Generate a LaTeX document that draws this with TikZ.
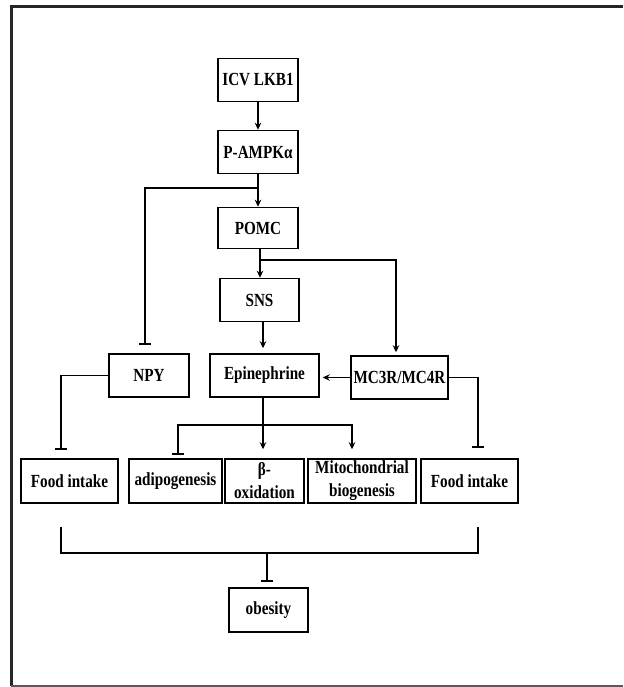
\documentclass[tikz,border=0pt]{standalone}
\usepackage{fontspec}
\setmainfont[FakeStretch=0.82]{Liberation Serif}
\usetikzlibrary{arrows.meta,positioning}
\tikzset{
  box/.style={draw, line width=1.5pt, minimum height=43pt, inner sep=1pt, align=center,
    font=\fontsize{18.5}{23}\selectfont\bfseries},
  act/.style={line width=1.4pt, -{Stealth[length=7pt,width=6.5pt]}},
  inh/.style={line width=1.4pt, -{Bar[width=12pt,line width=1.8pt]}},
  link/.style={line width=1.4pt}
}
\begin{document}
\begin{tikzpicture}[x=1pt,y=-1pt]
\useasboundingbox (0,0) rectangle (623,687);
% frame
\draw[line width=3pt, black!85] (623,7) -- (11,7) -- (11,686);
\draw[line width=2pt, black!65] (11,686) -- (623,686);
% nodes
\node[box, minimum width=80pt] (lkb) at (258,80) {ICV LKB1};
\node[box, minimum width=80pt] (ampk) at (258,152) {P-AMPKα};
\node[box, minimum width=80pt, minimum height=41pt] (pomc) at (258,228) {POMC};
\node[box, minimum width=79pt] (sns) at (259.5,300) {SNS};
\node[box, minimum width=80pt] (npy) at (149,375.5) {NPY};
\node[box, minimum width=109pt] (epi) at (264.5,375.5) {Epinephrine};
\node[box, minimum width=97pt] (mcr) at (399.5,377.5) {MC3R/MC4R};
\node[box, minimum width=97pt, minimum height=44pt] (food1) at (69.5,481) {Food intake};
\node[box, minimum width=93pt, minimum height=44pt] (adipo) at (175.5,481) {adipogenesis};
\node[box, minimum width=79pt, minimum height=44pt] (boxid) at (264.5,481) {β-\\oxidation};
\node[box, minimum width=108pt, minimum height=44pt] (mito) at (362,481) {Mitochondrial\\biogenesis};
\node[box, minimum width=97pt, minimum height=44pt] (food2) at (469.5,481) {Food intake};
\node[box, minimum width=79pt, minimum height=44pt] (obes) at (268.5,610) {obesity};
% junctions
\coordinate (j1) at (258,188);
\coordinate (j2) at (260,260);
\coordinate (j3) at (263,425);
\coordinate (bl) at (61,527);
\coordinate (br) at (478,527);
\coordinate (bm) at (267,553);
% connectors
\draw[act] (lkb) -- (ampk);
\draw[act] (ampk) -- (pomc);
\draw[inh, shorten >=8pt] (j1) -| ([xshift=-4pt]npy.north);
\draw[act] (pomc.south -| j2) -- (sns.north -| j2);
\draw[act, shorten >=3pt] (j2) -| ([xshift=-3.5pt]mcr.north);
\draw[act, shorten >=5pt] (sns.south -| j3) -- (epi.north -| j3);
\draw[act, shorten >=3pt] (mcr.west) -- (mcr.west -| epi.east);
\draw[inh, shorten >=8pt] (npy.west) -| ([xshift=-8.5pt]food1.north);
\draw[inh, shorten >=10pt] (mcr.east) -| ([xshift=8.5pt]food2.north);
\draw[link] (epi.south -| j3) -- (j3);
\draw[inh, shorten >=3pt] (j3) -| ([xshift=2.5pt]adipo.north);
\draw[act, shorten >=9pt] (j3) -- (j3 |- boxid.north);
\draw[act, shorten >=9pt] (j3) -| ([xshift=-10pt]mito.north);
\draw[link] (bl) |- (bm) -| (br);
\draw[inh, shorten >=5pt] (bm) -- (bm |- obes.north);
\end{tikzpicture}
\end{document}
